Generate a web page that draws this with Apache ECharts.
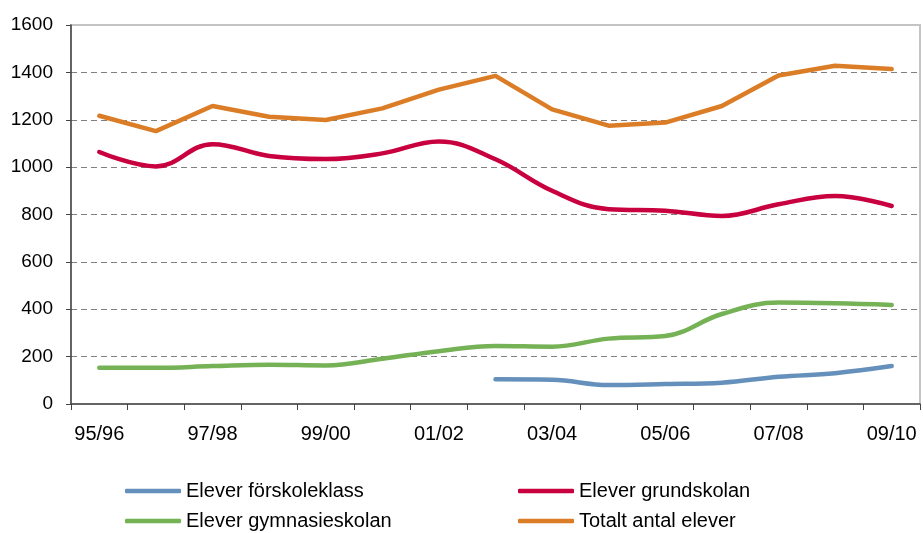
<!DOCTYPE html>
<html>
<head>
<meta charset="utf-8">
<script src="https://cdn.jsdelivr.net/npm/echarts@6/dist/echarts.min.js"></script>
<style>
html,body{margin:0;padding:0;background:#fff;}
#chart{width:923px;height:533px;}
</style>
</head>
<body>
<div id="chart"></div>
<script>
const categories = ['95/96','96/97','97/98','98/99','99/00','00/01','01/02','02/03','03/04','04/05','05/06','06/07','07/08','08/09','09/10'];
const forskoleklass = [null,null,null,null,null,null,null,104,102,80,84,90,115,130,160];
const grundskolan = [1064,1003,1097,1047,1034,1058,1108,1033,900,822,816,794,843,878,836];
const gymnasieskolan = [153,153,160,166,163,191,223,245,242,276,287,380,428,425,418];
const totalt = [1217,1152,1258,1213,1199,1248,1327,1385,1244,1175,1188,1258,1387,1428,1414];
const yTicks = {min:0, max:1600, interval:200};

const names = ['Elever förskoleklass','Elever grundskolan','Elever gymnasieskolan','Totalt antal elever'];
const colors = ['#6690BC','#C8003F','#75B155','#DB7D26'];
const font = 'Liberation Sans, Arial, sans-serif';

const chart = echarts.init(document.getElementById('chart'), null, {renderer:'canvas'});

function legendAt(name, left, top){
  return {
    data:[{name:name, icon:'roundRect'}],
    left:left, top:top, orient:'horizontal',
    itemWidth:56, itemHeight:4.5,
    textStyle:{fontFamily:font, fontSize:20, color:'#000'},
    padding:0, selectedMode:false
  };
}

function lineSeries(i, data, smooth){
  return {
    name:names[i], type:'line', data:data, smooth:smooth,
    showSymbol:false, symbol:'none', connectNulls:false,
    lineStyle:{width:4.5, color:colors[i], cap:'round', join:'round'},
    itemStyle:{color:colors[i]},
    animation:false
  };
}

chart.setOption({
  animation:false,
  color:colors,
  grid:{left:71, right:3, top:25, bottom:129, show:true, borderColor:'#c4c4c4', borderWidth:2, containLabel:false},
  legend:[
    legendAt(names[0],125,481),
    legendAt(names[1],518,481),
    legendAt(names[2],125,511),
    legendAt(names[3],518,511)
  ],
  xAxis:{
    type:'category', data:categories, boundaryGap:true,
    axisLine:{lineStyle:{color:'#444', width:1.5}},
    axisTick:{show:true, interval:0, length:6, lineStyle:{color:'#444'}},
    axisLabel:{interval:1, margin:20, fontFamily:font, fontSize:20, color:'#000'},
    splitLine:{show:false}
  },
  yAxis:{
    type:'value', min:yTicks.min, max:yTicks.max, interval:yTicks.interval,
    axisLine:{show:true, lineStyle:{color:'#444', width:1.5}},
    axisTick:{show:true, length:5, lineStyle:{color:'#444'}},
    axisLabel:{margin:18, fontFamily:font, fontSize:19, color:'#000', formatter:function(v){return String(v);}},
    splitLine:{show:true, showMaxLine:false, showMinLine:false, lineStyle:{color:'#808080', type:[6,4], width:1}}
  },
  series:[
    lineSeries(0, forskoleklass, 0.4),
    lineSeries(1, grundskolan, 0.4),
    lineSeries(2, gymnasieskolan, 0.4),
    lineSeries(3, totalt, false)
  ]
});
</script>
</body>
</html>
